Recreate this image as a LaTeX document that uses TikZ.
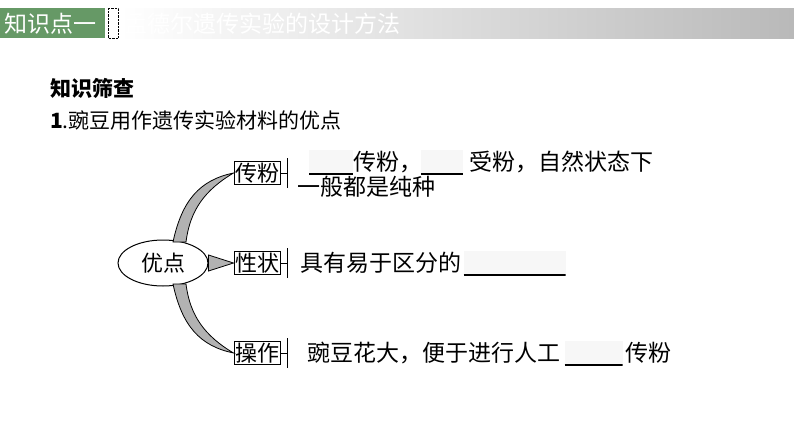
\documentclass[tikz,border=0pt]{standalone}
\usepackage{fontspec}
\newfontfamily\cjk{Noto Sans CJK SC}
\usetikzlibrary{positioning,calc,shapes.geometric}
\tikzset{
  % For the boxed keywords.
  keybox/.style={
    draw,
    line width=1pt,
    inner sep=1pt,
    font=\cjk\fontsize{22pt}{22pt}\selectfont},
%
  % For plain lines of text.
  body/.style={
    inner sep=0pt,
    anchor=west,
    font=\cjk\fontsize{23pt}{23pt}\selectfont},
%
  % For blanks to be filled in.
  blank/.style={
    fill=gray!6,
    inner sep=0pt,
    minimum height=24pt,
    anchor=west,
    path picture={\draw[line width=1.2pt]
      (path picture bounding box.south west)
        -- (path picture bounding box.south east);}},
%
  % For the gray horns.
  horn/.style={
    fill=gray!60,
    draw,
    line width=0.8pt}
}
\begin{document}
\begin{tikzpicture}[x=1pt,y=-1pt]
  \useasboundingbox (0,0) rectangle (794,447);

  % header
  \shade[left color=white, right color=gray!55] (120,8) rectangle (794,38);
  \fill[green!20!gray] (0,8) rectangle (105,38);
  \draw[densely dotted] (108,8) rectangle (118,38);
  \node[body, text=white, font=\cjk\fontsize{23pt}{23pt}\selectfont] (part) at (4,24) {知识点一};
  \node[body, text=white, font=\cjk\fontsize{23pt}{23pt}\selectfont] (title) at (124,24) {孟德尔遗传实验的设计方法};

  \node[body, font=\cjk\bfseries\fontsize{21pt}{21pt}\selectfont]
    (check) at (50,88) {知识筛查};
  \node[body, font=\cjk\fontsize{21pt}{21pt}\selectfont] (topic) at (50,120) {\textbf{1}.豌豆用作遗传实验材料的优点};

  % mind map
  \node[ellipse, draw, line width=1pt, minimum width=90pt, minimum height=46pt,
        inner sep=0pt, font=\cjk\fontsize{22pt}{22pt}\selectfont]
    (merit) at (163,263) {优点};
  \node[keybox] (pollen) at (257,173) {传粉};
  \node[keybox] (trait) at (257,263) {性状};
  \node[keybox] (handle) at (257,353) {操作};

  \draw[horn] (173,242) .. controls (182,200) and (200,180) .. (pollen.west)
              .. controls (205,190) and (190,210) .. (186,242) -- cycle;
  \draw[horn] (merit.east) ++(0,-8) -- (trait.west) -- ($(merit.east)+(0,8)$) -- cycle;
  \draw[horn] (173,284) .. controls (182,326) and (200,346) .. (handle.west)
              .. controls (205,336) and (190,316) .. (186,284) -- cycle;

  \foreach \k in {pollen,trait,handle}{
    \draw[line width=1pt] (\k.east) -- ++(7,0) coordinate (\k bar);
    \draw[line width=1pt] ($(\k bar)+(0,-15)$) -- ($(\k bar)+(0,15)$);
  }

  % texts
  \node[blank, minimum width=44pt] (b1) at (309,162) {};
  \node[body, right=0pt of b1] (t1) {传粉，};
  \node[blank, minimum width=42pt, right=-2pt of t1] (b2) {};
  \node[body, right=6pt of b2] (t2) {受粉，自然状态下};
  \node[body] (t3) at (297,187) {一般都是纯种};

  \node[body] (t4) at (300,263) {具有易于区分的};
  \node[blank, minimum width=102pt, right=2pt of t4] (b3) {};

  \node[body] (t5) at (307,353) {豌豆花大，便于进行人工};
  \node[blank, minimum width=58pt, right=4pt of t5] (b4) {};
  \node[body, right=2pt of b4] (t6) {传粉};
\end{tikzpicture}
\end{document}
